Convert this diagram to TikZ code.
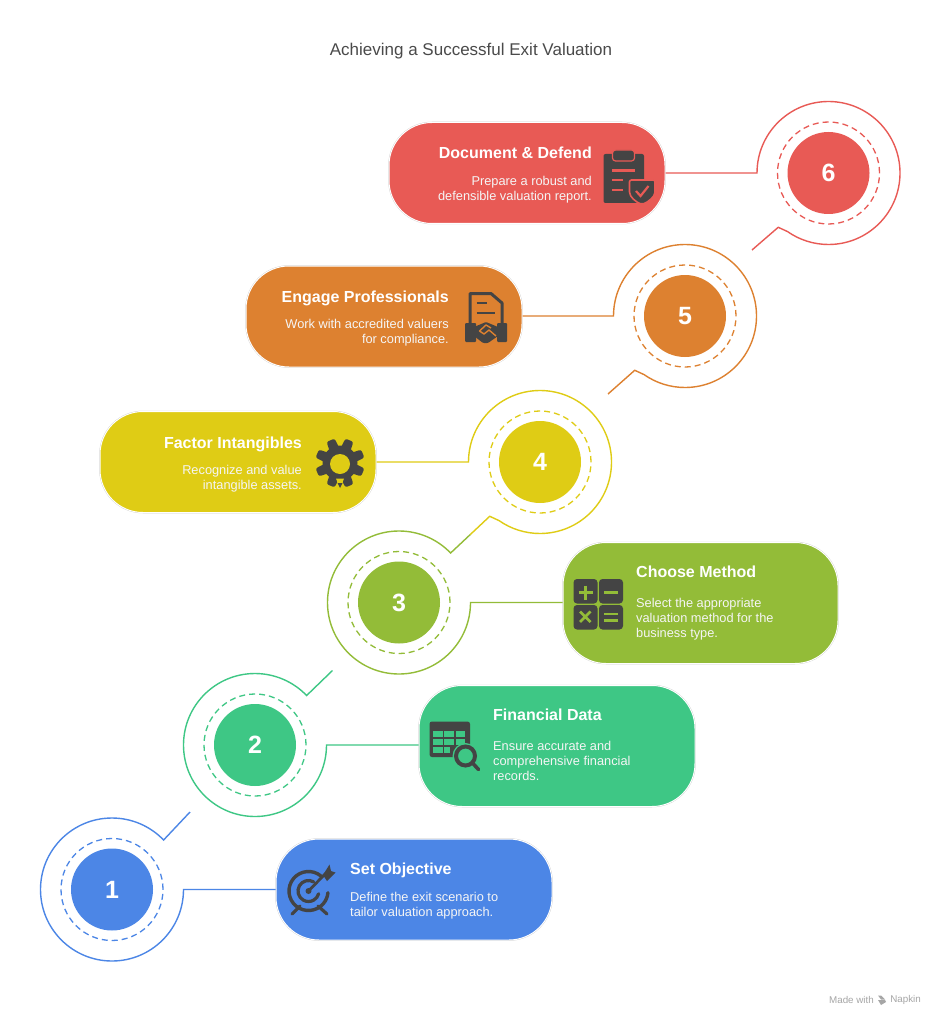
\documentclass[tikz,border=0pt]{standalone}
\usepackage{fontspec}
\setmainfont{Liberation Sans}
\usetikzlibrary{calc}
\definecolor{cA}{HTML}{4C86E6}
\definecolor{cB}{HTML}{3EC785}
\definecolor{cC}{HTML}{93BC38}
\definecolor{cD}{HTML}{DFCC15}
\definecolor{cE}{HTML}{DD8130}
\definecolor{cF}{HTML}{E85A55}
\definecolor{ink}{HTML}{444444}
\definecolor{titlecol}{HTML}{4A4A4A}
\tikzset{
 pill/.style n args={3}{fill=#1,draw=white,line width=1pt,rounded corners=43pt,minimum width=#2,minimum height=#3,inner sep=0pt,
   preaction={draw=black!22,line width=1.5pt,rounded corners=43pt}},
 badge/.style={circle,fill=#1,minimum size=82pt,inner sep=0pt,text=white,font=\fontsize{25}{25}\selectfont\bfseries},
 dashring/.style={draw=#1,line width=1.3pt,dash pattern=on 6pt off 4pt},
 ringline/.style={draw=#1,line width=1.4pt,line join=miter},
 head/.style={text=white,inner sep=0pt,font=\fontsize{16}{18}\selectfont\bfseries},
 body/.style={text=white!92!gray,inner sep=0pt,font=\fontsize{12.8}{15}\selectfont},
 icon/.style={fill=ink,draw=none}
}
\begin{document}
\begin{tikzpicture}[x=1pt,y=-1pt]
\useasboundingbox (0,0) rectangle (941,1024);
\fill[white] (0,0) rectangle (941,1024);
\node[text=titlecol,inner sep=0pt,font=\fontsize{17}{19}\selectfont] (title) at (471,51) {Achieving a Successful Exit Valuation};

% pills
\node[pill={cF}{276pt}{101pt}] (p6) at (527,173) {};
\node[pill={cE}{276pt}{101pt}] (p5) at (384,316.5) {};
\node[pill={cD}{276pt}{101pt}] (p4) at (238,462) {};
\node[pill={cC}{275pt}{121pt}] (p3) at (700.5,603) {};
\node[pill={cB}{276pt}{121pt}] (p2) at (557,746) {};
\node[pill={cA}{276pt}{101pt}] (p1) at (414,889.5) {};

% badges
\node[badge=cF] (c6) at (828.5,173) {6};
\node[badge=cE] (c5) at (685,316) {5};
\node[badge=cD] (c4) at (540,462) {4};
\node[badge=cC] (c3) at (399,602.5) {3};
\node[badge=cB] (c2) at (255,745) {2};
\node[badge=cA] (c1) at (112,889.5) {1};
\foreach \n/\c in {c6/cF,c5/cE,c4/cD,c3/cC,c2/cB,c1/cA}
  \draw[dashring=\c] (\n) circle[radius=51pt];

% corner points and free ends
\coordinate (e6) at (752,250);
\coordinate (e5) at (608,394);
\coordinate (n6) at ($(c6)+(-132.8:74pt)$);
\coordinate (n5) at ($(c5)+(-132.8:74pt)$);
\coordinate (n4) at ($(c4)+(-132.8:74pt)$);
\coordinate (n3) at ($(c3)+(43.8:71.5pt)$);
\coordinate (m43) at ($(n4)!0.5!(n3)$);
\coordinate (e2) at (332.5,670.5);
\coordinate (e1) at (190,812);

% rings with connectors
\draw[ringline=cF] (p6.east |- c6) -- ($(c6)+(-71.5pt,0)$) arc[start angle=180,end angle=-125,radius=71.5pt] -- (n6) -- (e6);
\draw[ringline=cE] (p5.east |- c5) -- ($(c5)+(-71.5pt,0)$) arc[start angle=180,end angle=-125,radius=71.5pt] -- (n5) -- (e5);
\draw[ringline=cD] (p4.east |- c4) -- ($(c4)+(-71.5pt,0)$) arc[start angle=180,end angle=-125,radius=71.5pt] -- (n4) -- (m43);
\draw[ringline=cC] (p3.west |- c3) -- ($(c3)+(71.5pt,0)$) arc[start angle=0,end angle=-316.2,radius=71.5pt] -- (m43);
\draw[ringline=cB] (p2.west |- c2) -- ($(c2)+(71.5pt,0)$) arc[start angle=0,end angle=-316.2,radius=71.5pt] -- (e2);
\draw[ringline=cA] (p1.west |- c1) -- ($(c1)+(71.5pt,0)$) arc[start angle=0,end angle=-316.2,radius=71.5pt] -- (e1);

% texts
\node[head,anchor=base east] (h6) at (592,159) {Document \& Defend};
\node[body,anchor=north east,align=right] (b6) at (592,176.2) {Prepare a robust and\\defensible valuation report.};
\node[head,anchor=base east] (h5) at (449,302) {Engage Professionals};
\node[body,anchor=north east,align=right] (b5) at (449,319.2) {Work with accredited valuers\\for compliance.};
\node[head,anchor=base east] (h4) at (302,448) {Factor Intangibles};
\node[body,anchor=north east,align=right] (b4) at (302,465.2) {Recognize and value\\intangible assets.};
\node[head,anchor=base west] (h3) at (636,577.5) {Choose Method};
\node[body,anchor=north west,align=left] (b3) at (636,598.2) {Select the appropriate\\valuation method for the\\business type.};
\node[head,anchor=base west] (h2) at (493,720.5) {Financial Data};
\node[body,anchor=north west,align=left] (b2) at (493,741.2) {Ensure accurate and\\comprehensive financial\\records.};
\node[head,anchor=base west] (h1) at (350,874.5) {Set Objective};
\node[body,anchor=north west,align=left] (b1) at (350,892.2) {Define the exit scenario to\\tailor valuation approach.};

% icon 6: clipboard + shield
\fill[icon,rounded corners=2pt] (603.5,154) rectangle (644,203);
\draw[icon,draw=cF,line width=1.2pt,rounded corners=3pt] (612.5,150) rectangle (634.5,161);
\draw[cF,line width=2.2pt] (612,170.5) -- (635,170.5) (612,180) -- (623,180) (612,190) -- (623,190);
\draw[icon,draw=cF,line width=1.6pt,rounded corners=2pt] (629.5,180) -- (655,180) -- (655,190) .. controls (655,197) and (648,202) .. (642,204.5) .. controls (636,202) and (629.5,197) .. (629.5,190) -- cycle;
\draw[cF,line width=2.2pt] (636,191) -- (640.5,196) -- (648.5,186);

% icon 5: document + handshake
\draw[ink,line width=3pt,line join=round] (470,323) -- (470,293.5) -- (491,293.5) -- (502,303) -- (502,323);
\draw[ink,line width=2pt] (476.5,303) -- (486.5,303) (476.5,312.5) -- (495,312.5);
\fill[icon,rounded corners=1pt] (465,323) rectangle (476,342);
\fill[icon,rounded corners=1pt] (497,323) rectangle (507,342);
\fill[icon,rounded corners=1pt] (474,327) -- (486,322) -- (498,327) -- (498,336) -- (488,343) -- (483,343) -- (474,336) -- cycle;
\draw[cE,line width=1.4pt,line join=round] (491,328) -- (486,325) -- (479.5,331) -- (484,334) -- (489,330) -- (496,336);

% icon 4: gear + bulb
\fill[icon] (340,463) circle[radius=17.5pt];
\foreach \a in {22.5,67.5,...,337.5}
  \fill[icon,rounded corners=2.2pt] ($(340,463)+(\a-19:15.5pt)$) -- ($(340,463)+(\a-10:25pt)$) -- ($(340,463)+(\a+10:25pt)$) -- ($(340,463)+(\a+19:15.5pt)$) -- cycle;
\fill[cD] (340,464) circle[radius=10pt];
\fill[cD] (336,478.5) -- (344,478.5) -- (342.5,482.5) -- (337.5,482.5) -- cycle;
\fill[icon] (337.5,483) -- (342.5,483) -- (340,488) -- cycle;

% icon 3: calculator
\fill[icon,rounded corners=3.5pt] (573.5,579) rectangle (597.5,603.5);
\fill[icon,rounded corners=3.5pt] (599,579) rectangle (623,603.5);
\fill[icon,rounded corners=3.5pt] (573.5,605) rectangle (597.5,629.5);
\fill[icon,rounded corners=3.5pt] (599,605) rectangle (623,629.5);
\draw[cC,line width=2.8pt] (578.5,592.5) -- (592.5,592.5) (585.5,585.5) -- (585.5,599.5);
\draw[cC,line width=2.8pt] (604,592.5) -- (618,592.5);
\draw[cC,line width=2.8pt] (580,611.5) -- (590.5,622) (590.5,611.5) -- (580,622);
\draw[cC,line width=2.8pt] (604,614) -- (618,614) (604,620.5) -- (618,620.5);

% icon 2: table + magnifier
\fill[icon,rounded corners=2.5pt] (429.5,721.5) rectangle (470,757);
\foreach \x in {433,444,455.5}\foreach \y in {731,739,747}
  \fill[cB] (\x,\y) rectangle +(9.5,6);
\fill[icon] (450,745) -- (470,745) -- (470,757) -- (450,757) -- cycle;
\fill[cB] (465.5,756) circle[radius=13pt];
\draw[ink,line width=4pt] (465.5,756) circle[radius=9.5pt];
\draw[ink,line width=3.6pt,line cap=round] (473,763.5) -- (478.5,769.5);

% icon 1: target
\draw[ink,line width=3.4pt,line cap=round] ($(308.5,891)+(50:19.5pt)$) arc[start angle=50,end angle=355,radius=19.5pt];
\draw[ink,line width=3.2pt,line cap=round] ($(308.5,891)+(60:10.5pt)$) arc[start angle=60,end angle=345,radius=10.5pt];
\fill[ink] (308.5,891) circle[radius=3pt];
\draw[ink,line width=2.8pt,line cap=round] (308.5,891) -- (326,873);
\fill[icon] (323,875) -- (329.5,864.5) -- (331,871) -- (335.5,872.5) -- (327,881) -- cycle;
\draw[ink,line width=3.2pt,line cap=round] (300,906) -- (292,914) (318,906) -- (327,914);

% footer
\node[text=black!35,inner sep=0pt,anchor=east,font=\fontsize{9.8}{11}\selectfont] (fn) at (921,1000) {Napkin};
\node[text=black!35,inner sep=0pt,anchor=east,font=\fontsize{9.8}{11}\selectfont] (fm) at (874,1000) {Made with};
\fill[black!35] (878,995.5) -- (881,995.5) -- (885,999.5) -- (881,999.5) -- cycle;
\fill[black!35] (878,1000) -- (885,1000) -- (886,1002) -- (881,1005) -- cycle;
\end{tikzpicture}
\end{document}
